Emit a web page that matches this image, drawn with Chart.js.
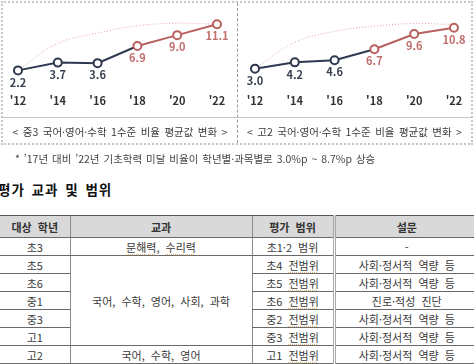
<!DOCTYPE html>
<html lang="ko">
<head>
<meta charset="utf-8">
<script src="https://cdn.jsdelivr.net/npm/chart.js@4.4.0/dist/chart.umd.min.js"></script>
<style>
body {
    margin: 0;
    width: 474px;
    height: 364px;
    overflow: hidden;
    background: #fff;
    position: relative;
    font-family: "Noto Sans CJK KR", sans-serif;
    color: #333;
}
.abs { position: absolute; }
#frame {
    left: 1px; top: 1px; width: 472px; height: 144px;
    box-sizing: border-box;
    border: 2px dotted #c6c6c6;
}
#divider { left: 237px; top: 3px; height: 140px; border-left: 1px dashed #9a9a9a; }
#hline { left: 3px; top: 117px; width: 468px; border-top: 1px solid #c4c4c4; }
.caption {
    top: 124px; height: 16px; line-height: 16px;
    font-size: 10.5px; text-align: center; color: #3a3a3a;
    white-space: nowrap; word-spacing: 1.5px;
}
#capA { left: 3px; width: 234px; }
#capB { left: 238px; width: 233px; }
.wrap { top: 0; width: 237px; height: 117px; }
#wrapA { left: 0; }
#wrapB { left: 237px; }
#note {
    left: 15px; top: 151px; font-size: 10.5px; color: #444;
    white-space: nowrap; word-spacing: 1px;
}
#heading {
    left: -2px; top: 179px; font-size: 13.5px; font-weight: bold;
    color: #111; white-space: nowrap; letter-spacing: 1px; word-spacing: 2px;
}
#tbl {
    left: 0; top: 215px; width: 478px;
    border-collapse: collapse; table-layout: fixed;
    font-size: 11px; color: #3a3a3a;
}
#tbl th, #tbl td {
    padding: 0; text-align: center; white-space: nowrap;
    border-bottom: 1px solid #6a6a6a;
    border-left: 1px solid #8a8a8a;
    word-spacing: 3px;
}
#tbl th { background: #d9d9d9; font-weight: bold; border-top: 1px solid #555; color: #333; }
#tbl tr.head { height: 22px; }
#tbl tr.row { height: 18px; }
#tbl .c1 { border-left: none; }
#tbl .c4 { border-left: 3px double #a8a8a8; }
.u { text-decoration: underline dotted #d9b67a; text-underline-offset: 2px; }
</style>
</head>
<body>

<div class="abs wrap" id="wrapA"><canvas id="chartA"></canvas></div>
<div class="abs wrap" id="wrapB"><canvas id="chartB"></canvas></div>

<div class="abs" id="frame"></div>
<div class="abs" id="divider"></div>
<div class="abs" id="hline"></div>
<div class="abs caption" id="capA">&lt; 중3 국어·영어·수학 1수준 비율 평균값 변화 &gt;</div>
<div class="abs caption" id="capB">&lt; 고2 국어·영어·수학 1수준 비율 평균값 변화 &gt;</div>

<div class="abs" id="note">* ’17년 대비 ’22년 기초학력 미달 비율이 학년별·과목별로 3.0%p ~ 8.7%p 상승</div>
<div class="abs" id="heading">평가 교과 및 범위</div>

<table class="abs" id="tbl">
    <colgroup>
        <col style="width:70px">
        <col style="width:182px">
        <col style="width:82px">
        <col style="width:144px">
    </colgroup>
    <tbody id="tblBody"></tbody>
</table>

<script>
// years on the x axis
const years = ["'12", "'14", "'16", "'18", "'20", "'22"];

// 중3 / 고2 국어·영어·수학 1수준 비율 평균값
const middle3 = [2.2, 3.7, 3.6, 6.9, 9.0, 11.1];
const high2 = [3.0, 4.2, 4.6, 6.7, 9.6, 10.8];

// dotted trend arc
const middle3Trend = [2.2, 7.4, 9.4, 10.8, 11.3, 11.1];
const high2Trend = [3.0, 8.0, 10.1, 11.1, 11.6, 11.4];

// table
const tableHead = ["대상 학년", "교과", "평가 범위", "설문"];
const grades = ["초3", "초5", "초6", "중1", "중3", "고1", "고2"];
const subjects = ["문해력, 수리력", "국어, 수학, 영어, 사회, 과학", "국어, 수학, 영어"];
const subjectSpans = [1, 5, 1];
const ranges = ["초1·2 범위", "초4 전범위", "초5 전범위", "초6 전범위", "중2 전범위", "중3 전범위", "고1 전범위"];
const surveys = ["-", "사회·정서적 역량 등", "사회·정서적 역량 등", "진로·적성 진단", "사회·정서적 역량 등", "사회·정서적 역량 등", "사회·정서적 역량 등"];

const NAVY = "#2f3a50";
const ROSE = "#b9615f";
const ROSE_TEXT = "#c06e6b";
const NAVY_TEXT = "#39414f";
const TREND = "#e6a3a3";
const RECENT_FROM = 3;

Chart.defaults.font.family = "'Noto Sans CJK KR', sans-serif";

const valueLabels = {
    id: "valueLabels",

    afterDatasetsDraw(chart) {

        const meta = chart.getDatasetMeta(0);
        const values = chart.data.datasets[0].data;
        const ctx = chart.ctx;

        ctx.save();
        ctx.font = "bold 11px 'Noto Sans CJK KR', sans-serif";
        ctx.textAlign = "center";
        ctx.textBaseline = "middle";

        meta.data.forEach((pt, i) => {
            ctx.fillStyle = i >= RECENT_FROM ? ROSE_TEXT : NAVY_TEXT;
            ctx.fillText(values[i].toFixed(1), pt.x, pt.y + 12);
        });

        ctx.restore();
    }
};

function createLineChart(id, values, trend, yMin, yMax) {

    return new Chart(

        document.getElementById(id),

        {
            type: "line",

            data: {

                labels: years,

                datasets: [
                    {
                        data: values,
                        borderWidth: 2,
                        tension: 0,
                        segment: {
                            borderColor: c =>
                                c.p0DataIndex >= RECENT_FROM ? ROSE : NAVY
                        },
                        pointRadius: 4,
                        pointBorderWidth: 2,
                        pointBackgroundColor: "#fff",
                        pointBorderColor: values.map(
                            (v, i) => i >= RECENT_FROM ? ROSE : NAVY
                        )
                    },
                    {
                        data: trend,
                        borderColor: TREND,
                        borderWidth: 1,
                        borderDash: [1, 2],
                        pointRadius: 0,
                        tension: 0.4
                    }
                ]
            },

            options: {

                responsive: true,
                maintainAspectRatio: false,
                animation: false,

                layout: {
                    padding: { left: 18, right: 20, top: 0, bottom: 4 }
                },

                plugins: {
                    legend: { display: false },
                    tooltip: { enabled: false }
                },

                scales: {

                    x: {
                        offset: false,
                        grid: { display: false, drawTicks: false },
                        border: { display: false },
                        ticks: {
                            padding: 6,
                            color: "#333",
                            font: { size: 11, weight: "bold" }
                        }
                    },

                    y: {
                        display: false,
                        min: yMin,
                        max: yMax
                    }
                }
            },

            plugins: [valueLabels]
        }
    );
}

function buildTable() {

    const body = document.getElementById("tblBody");

    let html = "<tr class='head'>" + tableHead.map(
        (h, i) => "<th class='c" + (i + 1) + "'>" + h + "</th>"
    ).join("") + "</tr>";

    let subjectRow = 0;
    const subjectStart = {};
    subjectSpans.forEach((span, k) => {
        subjectStart[subjectRow] = k;
        subjectRow += span;
    });

    const underline = s =>
        s.replace("전범위", "<span class='u'>전범위</span>")
         .replace("문해력", "<span class='u'>문해력</span>")
         .replace("수리력", "<span class='u'>수리력</span>");

    grades.forEach((g, i) => {

        html += "<tr class='row'>";
        html += "<td class='c1'>" + g + "</td>";

        if (subjectStart[i] !== undefined) {
            const k = subjectStart[i];
            html += "<td class='c2' rowspan='" + subjectSpans[k] + "'>" +
                underline(subjects[k]) + "</td>";
        }

        html += "<td class='c3'>" + underline(ranges[i]) + "</td>";
        html += "<td class='c4'>" + surveys[i] + "</td>";
        html += "</tr>";
    });

    body.innerHTML = html;
}

buildTable();

createLineChart("chartA", middle3, middle3Trend, -1.16, 14.62);

createLineChart("chartB", high2, high2Trend, -0.65, 14.94);
</script>
</body>
</html>
